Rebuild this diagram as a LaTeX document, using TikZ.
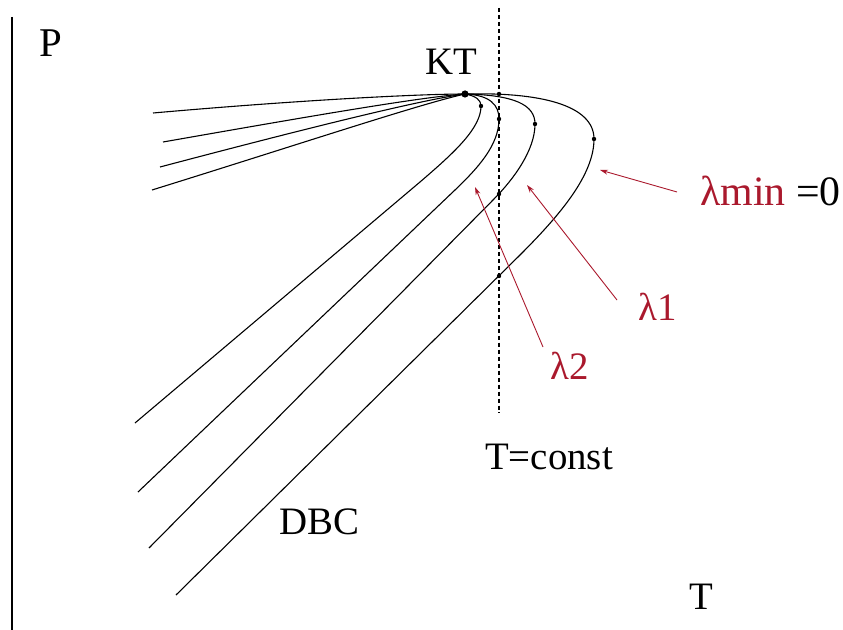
\documentclass[tikz,border=0pt]{standalone}
\usepackage{fontspec}
\setmainfont{Liberation Serif}
\usetikzlibrary{arrows.meta}
\definecolor{lamred}{RGB}{170,25,45}
\tikzset{
  lbl/.style={inner sep=0pt, font=\fontsize{39}{42}\selectfont},
  redlbl/.style={lbl, text=lamred},
  branch/.style={line width=1.1pt},
  pin/.style={-{Stealth[length=8pt,width=5pt]}, line width=0.9pt, lamred},
  tconst/.style={line width=1.3pt, dash pattern=on 4pt off 3pt},
}

\begin{document}
\begin{tikzpicture}[x=1bp, y=-1bp]
  \useasboundingbox[fill=white] (0,0) rectangle (843,630);

  % axis
  \draw[line width=1.5pt] (12,17) -- (12,630);

  % isotherm
  \coordinate (ttop) at (499,8);
  \coordinate (tbot) at (499,413);
  \draw[tconst] (ttop) -- (tbot);

  % critical point
  \coordinate (kp) at (465,94);

  % branches, outer to inner
  \draw[branch] (153,113) .. controls (300,100) and (420,94) .. (kp)
      .. controls (540,92) and (594,105) .. (594,139)
      .. controls (594,175) and (560,215) .. (520,255) -- (176,595);
  \draw[branch] (163,142) .. controls (300,118) and (420,97) .. (kp)
      .. controls (515,95) and (535,105) .. (535,124)
      .. controls (535,150) and (514,179) .. (493,200) -- (149,548);
  \draw[branch] (160,167) .. controls (300,130) and (420,100) .. (kp)
      .. controls (490,95) and (499,105) .. (499,119)
      .. controls (499,145) and (478,168) .. (455,190) -- (138,492);
  \draw[branch] (152,190) .. controls (300,144) and (420,104) .. (kp)
      .. controls (476,96) and (481,100) .. (481,106)
      .. controls (481,128) and (455,152) .. (420,182) -- (135,423);

  % marked points
  \fill (kp) circle (3.6);
  \foreach \px/\py in {499/94, 481/106, 499/119, 535/124, 594/139, 499/194, 499/276}
    \fill (\px,\py) circle (2.2);

  % labels
  \node[lbl, font=\fontsize{41}{44}\selectfont] (p) at (51,43) {P};
  \node[lbl] (kt) at (451,62) {KT};
  \node[lbl] (tc) at (549,457) {T=const};
  \node[lbl] (dbc) at (319,522) {DBC};
  \node[lbl] (t) at (701,597) {T};
  \node[lbl, anchor=east, font=\fontsize{42}{44}\selectfont] (lmin) at (841,191)
      {\textcolor{lamred}{λmin} =0};
  \node[redlbl] (l1) at (658,307) {λ1};
  \node[redlbl] (l2) at (570,366) {λ2};

  % pointers
  \coordinate (lmin-s) at (677,192);
  \coordinate (lmin-e) at (600,170);
  \coordinate (l1-s) at (617,300);
  \coordinate (l1-e) at (527,185);
  \coordinate (l2-s) at (543,347);
  \coordinate (l2-e) at (475,187);
  \draw[pin] (lmin-s) -- (lmin-e);
  \draw[pin] (l1-s) -- (l1-e);
  \draw[pin] (l2-s) -- (l2-e);
\end{tikzpicture}
\end{document}
